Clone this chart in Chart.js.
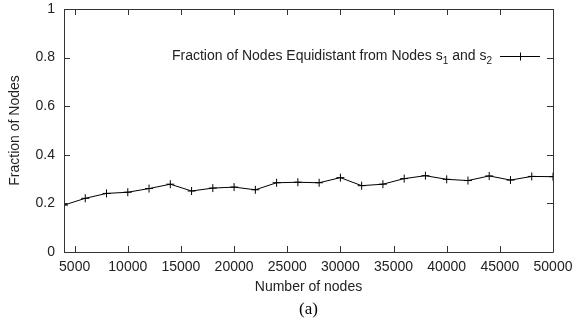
<!DOCTYPE html>
<html>
<head>
<meta charset="utf-8">
<script src="https://cdn.jsdelivr.net/npm/chart.js@4.4.1/dist/chart.umd.min.js"></script>
<style>
  html, body { margin: 0; padding: 0; background: #fff; }
  #wrap { width: 572px; height: 333px; position: relative; }
</style>
</head>
<body>
<div id="wrap"><canvas id="chart"></canvas></div>
<script>
const nodeCounts = [4000, 6000, 8000, 10000, 12000, 14000, 16000, 18000, 20000, 22000, 24000, 26000,
                    28000, 30000, 32000, 34000, 36000, 38000, 40000, 42000, 44000, 46000, 48000, 50000];
const equidistantFraction = [0.193, 0.221, 0.241, 0.246, 0.261, 0.279, 0.251, 0.263, 0.267, 0.256, 0.285, 0.287,
                             0.285, 0.306, 0.273, 0.279, 0.302, 0.314, 0.299, 0.294, 0.313, 0.296, 0.311, 0.310];
const xTicks = [5000, 10000, 15000, 20000, 25000, 30000, 35000, 40000, 45000, 50000];
const yTicks = [0, 0.2, 0.4, 0.6, 0.8, 1];

const FONT = 'Liberation Sans, Arial, sans-serif';
const INK = '#222';

// gnuplot style frame with inward ticks on all four sides, plus the key and caption
const framePlugin = {
  id: 'frame',
  afterDraw(chart) {
    const {ctx, chartArea: a, scales: {x, y}} = chart;
    ctx.save();
    ctx.strokeStyle = '#333';
    ctx.lineWidth = 1;
    ctx.beginPath();
    ctx.rect(Math.round(a.left) + 0.5, Math.round(a.top) + 0.5,
             Math.round(a.right - a.left), Math.round(a.bottom - a.top));
    x.ticks.forEach(t => {
      const px = Math.round(x.getPixelForValue(t.value)) + 0.5;
      ctx.moveTo(px, a.bottom); ctx.lineTo(px, a.bottom - 6);
      ctx.moveTo(px, a.top); ctx.lineTo(px, a.top + 6);
    });
    y.ticks.forEach(t => {
      const py = Math.round(y.getPixelForValue(t.value)) + 0.5;
      ctx.moveTo(a.left, py); ctx.lineTo(a.left + 6, py);
      ctx.moveTo(a.right, py); ctx.lineTo(a.right - 6, py);
    });
    ctx.stroke();

    // key, with subscripts
    const parts = [
      ['Fraction of Nodes Equidistant from Nodes s', false],
      ['1', true], [' and s', false], ['2', true]
    ];
    const big = '14px ' + FONT, small = '10px ' + FONT;
    let w = 0;
    parts.forEach(([s, sub]) => { ctx.font = sub ? small : big; w += ctx.measureText(s).width; });
    const endX = 492, base = 60;
    let cx = endX - w;
    ctx.fillStyle = INK;
    ctx.textBaseline = 'alphabetic';
    parts.forEach(([s, sub]) => {
      ctx.font = sub ? small : big;
      ctx.fillText(s, cx, sub ? base + 4 : base);
      cx += ctx.measureText(s).width;
    });
    const ly = 56.5, lx0 = 500, lx1 = 540, mx = 520;
    ctx.strokeStyle = '#000';
    ctx.beginPath();
    ctx.moveTo(lx0, ly); ctx.lineTo(lx1, ly);
    ctx.moveTo(mx - 4, ly); ctx.lineTo(mx + 4, ly);
    ctx.moveTo(mx + 0.5, ly - 4); ctx.lineTo(mx + 0.5, ly + 4);
    ctx.stroke();

    // caption
    ctx.font = '17px Liberation Serif, Times New Roman, serif';
    ctx.textAlign = 'center';
    ctx.textBaseline = 'middle';
    ctx.fillStyle = '#000';
    ctx.fillText('(a)', (a.left + a.right) / 2, 310);
    ctx.restore();
  }
};

new Chart(document.getElementById('chart'), {
  type: 'line',
  data: {
    datasets: [{
      label: 'Fraction of Nodes Equidistant from Nodes s1 and s2',
      data: nodeCounts.map((n, i) => ({x: n, y: equidistantFraction[i]})),
      borderColor: '#000',
      borderWidth: 1,
      pointStyle: 'cross',
      pointRadius: 4,
      pointBorderWidth: 1,
      pointBorderColor: '#000',
      tension: 0
    }]
  },
  options: {
    responsive: true,
    maintainAspectRatio: false,
    animation: false,
    layout: { padding: { top: 9, right: 19, left: 0, bottom: 0 } },
    plugins: { legend: { display: false }, tooltip: { enabled: false } },
    scales: {
      x: {
        type: 'linear',
        min: 4000,
        max: 50000,
        afterBuildTicks: s => { s.ticks = xTicks.map(v => ({value: v})); },
        afterFit: s => { s.height = 81; s.paddingLeft = 0; s.paddingRight = 0; },
        grid: { display: false, drawTicks: false },
        border: { display: false },
        ticks: { color: INK, font: { family: FONT, size: 14 }, padding: 7, maxRotation: 0, autoSkip: false,
                 callback: v => String(v) },
        title: { display: true, text: 'Number of nodes', color: INK,
                 font: { family: FONT, size: 14 }, padding: { top: 0, bottom: 37 } }
      },
      y: {
        min: 0,
        max: 1,
        afterBuildTicks: s => { s.ticks = yTicks.map(v => ({value: v})); },
        afterFit: s => { s.width = 64; s.paddingTop = 0; s.paddingBottom = 0; },
        grid: { display: false, drawTicks: false },
        border: { display: false },
        ticks: { color: INK, font: { family: FONT, size: 14 }, padding: 9, callback: v => String(v) },
        title: { display: true, text: 'Fraction of Nodes', color: INK,
                 font: { family: FONT, size: 14 }, padding: { top: 7, bottom: 0 } }
      }
    }
  },
  plugins: [framePlugin]
});
</script>
</body>
</html>
